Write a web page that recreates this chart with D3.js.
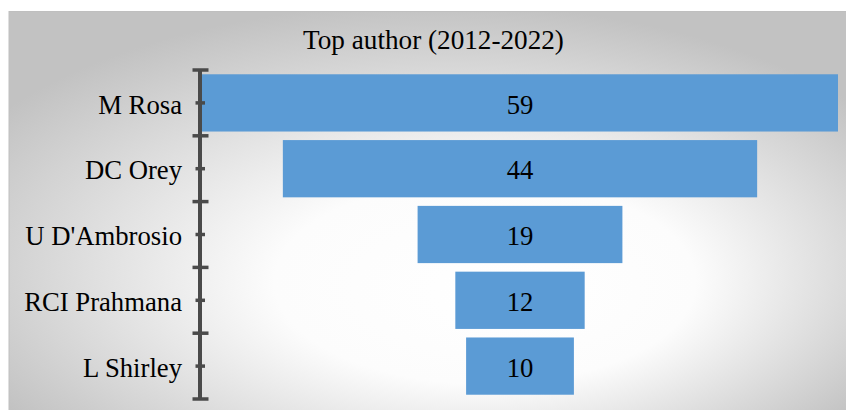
<!DOCTYPE html>
<html>
<head>
<meta charset="utf-8">
<script src="https://cdn.jsdelivr.net/npm/d3@7"></script>
<style>
  html, body { margin: 0; padding: 0; background: #ffffff; }
  svg { display: block; }
</style>
</head>
<body>
<svg id="chart" width="846" height="410"></svg>
<script>
// Top authors, 2012-2022 (number of publications)
const authors = ["M Rosa", "DC Orey", "U D'Ambrosio", "RCI Prahmana", "L Shirley"];
const counts = [59, 44, 19, 12, 10];
const chartTitle = "Top author (2012-2022)";

const FONT = "'Liberation Serif', Tinos, 'Times New Roman', 'DejaVu Serif', serif";
const svg = d3.select("#chart");

// Chart area background: soft radial gradient, light centre fading to grey edges
const defs = svg.append("defs");
const grad = defs.append("radialGradient")
  .attr("id", "bg")
  .attr("cx", 0.5).attr("cy", 0.6).attr("r", 0.62)
  .attr("fx", 0.6).attr("fy", 0.7);
grad.append("stop").attr("offset", 0).attr("stop-color", "#ffffff");
grad.append("stop").attr("offset", 0.4).attr("stop-color", "#fcfcfc");
grad.append("stop").attr("offset", 1).attr("stop-color", "#c2c2c2");

svg.append("rect")
  .attr("x", 9).attr("y", 11.5)
  .attr("width", 850).attr("height", 410)
  .attr("fill", "url(#bg)")
  .attr("stroke", "#bfbfbf").attr("stroke-width", 1);

// Scales
const y = d3.scaleBand()
  .domain(authors)
  .range([70, 399])
  .paddingInner(0.13)
  .paddingOuter(0.065);

const maxVal = d3.max(counts);
const x = d3.scaleLinear().domain([0, maxVal]).range([202, 838]);

const data = authors.map((a, i) => ({ name: a, value: counts[i] }));

// Funnel bars, centred on the mid value
svg.append("g").selectAll("rect")
  .data(data)
  .join("rect")
  .attr("x", d => x((maxVal - d.value) / 2))
  .attr("width", d => x((maxVal + d.value) / 2) - x((maxVal - d.value) / 2))
  .attr("y", d => y(d.name))
  .attr("height", y.bandwidth())
  .attr("fill", "#5b9bd5");

// Value labels
svg.append("g").selectAll("text")
  .data(data)
  .join("text")
  .attr("x", x(maxVal / 2))
  .attr("y", d => y(d.name) + y.bandwidth() / 2)
  .attr("dy", "0.4em")
  .attr("text-anchor", "middle")
  .style("font-family", FONT)
  .style("font-size", "26.7px")
  .style("fill", "#000")
  .text(d => d.value);

// Category axis
const axisColor = "#4a4a4a";
const axisX = 200;
const axisG = svg.append("g")
  .attr("transform", `translate(${axisX},0)`)
  .call(d3.axisLeft(y).tickSize(0).tickPadding(18));
axisG.attr("font-family", null).attr("font-size", null);
axisG.select(".domain").remove();
axisG.selectAll(".tick text")
  .style("font-family", FONT)
  .style("font-size", "26.7px")
  .style("fill", "#000")
  .attr("dy", "0.4em");
// short centre ticks crossing the axis
axisG.selectAll(".tick line")
  .attr("x1", -4.5).attr("x2", 5)
  .attr("stroke", axisColor)
  .attr("stroke-width", 3.5);

// axis spine
const [r0, r1] = y.range();
svg.append("line")
  .attr("x1", axisX).attr("x2", axisX)
  .attr("y1", r0).attr("y2", r1)
  .attr("stroke", axisColor).attr("stroke-width", 4);

// category boundary ticks
const step = y.step();
const bounds = d3.range(authors.length + 1).map(i => r0 + i * step);
svg.append("g").selectAll("line")
  .data(bounds)
  .join("line")
  .attr("x1", axisX - 7.5).attr("x2", axisX + 8.5)
  .attr("y1", d => d).attr("y2", d => d)
  .attr("stroke", axisColor).attr("stroke-width", 3.5);

// Title
svg.append("text")
  .attr("x", 433.5)
  .attr("y", 49)
  .attr("text-anchor", "middle")
  .style("font-family", FONT)
  .style("font-size", "27.2px")
  .style("fill", "#000")
  .text(chartTitle);
</script>
</body>
</html>
